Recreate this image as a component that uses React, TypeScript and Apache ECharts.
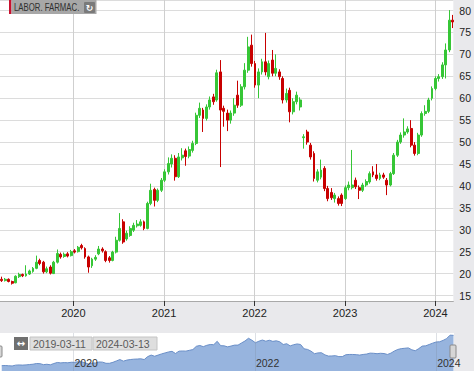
import React, { useEffect, useRef } from "react";
import * as echarts from "echarts";

const DAY = 86400000;
const AXIS_START = Date.UTC(2019, 2, 11);
const AXIS_END = Date.UTC(2024, 2, 13);
const LAST_CANDLE = Date.UTC(2024, 2, 11);
const STEP_DAYS = 14;

const yearTicks = [2020, 2021, 2022, 2023, 2024];
const navYearTicks = [2020, 2022, 2024];
const titleText = "LABOR. FARMAC.";
const rangeStartLabel = "2019-03-11";
const rangeEndLabel = "2024-03-13";

// [open, close, low, high] — bi-weekly candles
const ohlc: number[][] = [
  [18.7, 18.4, 18.1, 19.3], [18.4, 18.7, 18.2, 19.0], [18.7, 18.2, 18.0, 18.9], [18.2, 17.8, 17.5, 18.4],
  [17.9, 19.4, 17.8, 19.6], [19.3, 19.8, 19.0, 20.2], [19.8, 19.5, 19.2, 20.0], [19.5, 19.9, 19.3, 21.9],
  [19.9, 20.6, 19.7, 20.9], [20.5, 21.2, 20.2, 21.5], [21.2, 22.6, 21.0, 24.1], [23.0, 22.3, 21.9, 23.4],
  [22.6, 20.4, 20.0, 22.9], [20.4, 21.1, 20.1, 21.6], [21.5, 20.1, 19.8, 21.9], [20.0, 22.6, 19.9, 22.9],
  [22.6, 24.6, 22.3, 25.5], [24.4, 23.8, 23.4, 24.8], [23.9, 24.4, 23.6, 24.8], [24.5, 24.0, 23.7, 24.9],
  [24.1, 25.0, 23.9, 25.4], [25.2, 24.9, 24.6, 25.6], [25.0, 26.0, 24.8, 26.3], [26.4, 25.9, 25.5, 26.8],
  [25.7, 23.8, 23.4, 26.0], [23.8, 21.5, 20.2, 24.1], [21.8, 23.3, 21.3, 23.6], [23.3, 23.7, 22.9, 24.2],
  [24.5, 25.6, 24.2, 26.3], [25.6, 25.2, 24.8, 26.0], [25.0, 23.0, 22.6, 25.3], [23.6, 23.0, 22.5, 24.0],
  [23.0, 24.9, 22.8, 25.2], [24.9, 27.6, 24.6, 28.4], [27.6, 30.3, 27.3, 33.8], [31.8, 27.2, 26.8, 32.4],
  [27.9, 29.2, 27.5, 29.8], [28.7, 30.3, 28.4, 30.8], [29.9, 31.0, 29.5, 31.6], [30.9, 31.3, 30.5, 32.2],
  [31.0, 31.8, 30.7, 32.4], [31.8, 30.3, 29.9, 32.1], [30.3, 36.0, 30.1, 36.4], [36.0, 39.0, 35.6, 40.5],
  [39.2, 36.7, 35.3, 39.6], [36.7, 39.0, 36.3, 39.4], [39.0, 41.3, 38.6, 41.8], [41.3, 43.2, 40.9, 43.8],
  [43.2, 45.1, 42.6, 46.5], [45.0, 46.3, 44.2, 47.2], [46.3, 42.1, 41.2, 47.0], [42.1, 46.6, 41.8, 47.5],
  [46.4, 47.0, 45.8, 48.6], [48.0, 46.7, 44.6, 48.5], [46.8, 48.3, 46.3, 49.0], [48.1, 49.7, 47.6, 50.3],
  [49.7, 56.1, 49.3, 56.7], [56.1, 57.7, 55.5, 59.0], [57.3, 55.4, 52.3, 57.8], [55.4, 58.0, 54.9, 58.6],
  [58.0, 59.6, 57.4, 60.4], [60.3, 59.2, 58.5, 61.0], [59.6, 65.8, 59.2, 66.5], [66.0, 57.3, 44.3, 68.7],
  [57.7, 57.0, 53.5, 58.3], [56.6, 55.0, 52.5, 57.4], [55.0, 56.6, 54.2, 57.2], [56.6, 58.4, 56.0, 60.0],
  [60.7, 58.4, 57.8, 64.0], [58.4, 62.6, 58.0, 63.2], [62.6, 66.4, 62.0, 68.0], [66.4, 71.7, 65.8, 74.0],
  [72.1, 67.9, 67.2, 74.5], [67.9, 63.0, 62.4, 68.5], [63.0, 66.0, 60.0, 66.8], [66.0, 68.3, 65.4, 69.0],
  [68.3, 66.0, 65.2, 74.9], [64.9, 67.9, 64.3, 68.6], [68.7, 65.7, 65.0, 71.0], [65.7, 66.8, 65.0, 70.0],
  [66.0, 64.9, 64.2, 66.6], [64.5, 59.6, 58.8, 65.0], [59.6, 61.1, 59.0, 62.2], [61.8, 56.9, 54.5, 62.4],
  [56.9, 59.2, 56.3, 60.0], [59.2, 60.7, 58.6, 61.5], [58.0, 59.6, 57.2, 60.2], [51.0, 51.2, 48.5, 51.8],
  [52.3, 50.0, 49.4, 52.8], [49.3, 46.6, 46.0, 49.8], [47.4, 41.7, 41.0, 47.9], [41.3, 43.2, 40.8, 43.8],
  [42.0, 43.6, 41.5, 46.0], [44.0, 39.4, 38.8, 44.5], [39.4, 37.1, 36.5, 40.0], [38.5, 37.3, 36.8, 39.5],
  [37.1, 37.9, 36.2, 38.4], [37.1, 36.0, 35.5, 37.6], [37.9, 36.0, 35.4, 38.3], [37.1, 39.6, 36.8, 40.1],
  [39.6, 40.2, 39.0, 41.0], [39.6, 40.2, 39.2, 48.2], [41.3, 39.8, 39.3, 41.9], [39.6, 39.0, 37.0, 40.1],
  [39.0, 40.2, 38.6, 40.7], [40.2, 41.0, 39.8, 41.5], [40.9, 42.8, 40.5, 43.3], [43.2, 42.5, 42.0, 44.5],
  [42.5, 41.7, 41.2, 45.0], [41.7, 42.5, 41.3, 43.0], [42.5, 42.0, 41.6, 43.0], [41.3, 40.2, 37.9, 41.8],
  [40.2, 42.8, 39.9, 43.2], [42.8, 47.0, 42.5, 47.5], [47.0, 50.0, 46.6, 50.5], [50.0, 51.6, 49.6, 52.2],
  [51.6, 52.3, 51.0, 55.4], [52.3, 53.0, 51.9, 53.6], [53.1, 49.3, 48.8, 55.0], [49.3, 47.4, 46.9, 50.0],
  [47.4, 51.6, 47.0, 52.1], [51.6, 56.5, 51.2, 57.0], [56.5, 57.0, 56.0, 58.4], [57.0, 59.6, 56.6, 60.1],
  [60.0, 62.2, 59.5, 62.7], [62.2, 64.5, 61.8, 65.0], [64.5, 64.9, 63.8, 65.5], [64.9, 67.6, 64.4, 68.2],
  [67.6, 71.0, 64.5, 72.5], [71.0, 77.8, 70.5, 80.1], [77.8, 77.4, 76.0, 79.0],
];

const FONT = "'Liberation Sans', Arial, sans-serif";

const dates = ohlc.map((_, i) => LAST_CANDLE - (ohlc.length - 1 - i) * STEP_DAYS * DAY);
const candleData = ohlc.map((d, i) => [dates[i], d[0], d[1], d[2], d[3]]);
const closeData = ohlc.map((d, i) => [dates[i], d[1]]);
const yearTs = yearTicks.map((y) => Date.UTC(y, 0, 1));
const navYearTs = navYearTicks.map((y) => Date.UTC(y, 0, 1));

const GREEN = "#36c636";
const RED = "#c80000";

const yearFormatter = (v: number) => String(new Date(v).getUTCFullYear());

function buildOption(): any {
  return {
    animation: false,
    backgroundColor: "transparent",
    grid: [
      { left: 0, top: 0, width: 454, height: 301, show: true, backgroundColor: "#ffffff", borderWidth: 0 },
      { left: 0, top: 333, width: 454, height: 38, show: true, backgroundColor: "#ffffff", borderWidth: 0 },
    ],
    xAxis: [
      {
        type: "value",
        gridIndex: 0,
        min: AXIS_START,
        max: AXIS_END,
        axisLine: { show: true, lineStyle: { color: "#a9a9a9", width: 1 } },
        axisTick: { show: true, customValues: yearTs, length: 5, lineStyle: { color: "#333" } },
        axisLabel: {
          customValues: yearTs,
          formatter: yearFormatter,
          color: "#222",
          fontSize: 11,
          fontFamily: FONT,
          margin: 6,
        },
        splitLine: { show: true, lineStyle: { color: "#cfcfcf", width: 1 } },
      },
      {
        type: "value",
        gridIndex: 1,
        position: "top",
        offset: -36,
        z: 10,
        min: AXIS_START,
        max: AXIS_END,
        axisLine: { show: false },
        axisTick: { show: false, customValues: navYearTs },
        axisLabel: {
          customValues: navYearTs,
          formatter: yearFormatter,
          align: "left",
          color: "#333",
          fontSize: 10.5,
          fontFamily: FONT,
          margin: 1,
          padding: [0, 0, 0, 1],
        },
        splitLine: { show: true, lineStyle: { color: "rgba(120,130,150,0.25)", width: 1 } },
      },
    ],
    yAxis: [
      {
        type: "value",
        gridIndex: 0,
        position: "right",
        min: 13.75,
        max: 82.4,
        splitNumber: 14,
        minInterval: 5,
        maxInterval: 5,
        axisLine: { show: false },
        axisTick: { show: false },
        axisLabel: {
          showMinLabel: false,
          showMaxLabel: false,
          formatter: (v: number) => (Math.abs(v % 5) < 1e-6 ? String(v) : ""),
          color: "#222",
          fontSize: 10.5,
          fontFamily: FONT,
          margin: 6,
        },
        splitLine: { show: true, lineStyle: { color: "#dcdcdc", width: 1 } },
      },
      {
        type: "value",
        gridIndex: 1,
        min: 8,
        max: 82,
        show: false,
        splitLine: { show: false },
      },
    ],
    series: [
      {
        type: "candlestick",
        xAxisIndex: 0,
        yAxisIndex: 0,
        data: candleData,
        encode: { x: 0, y: [1, 2, 3, 4] },
        barWidth: 2.4,
        itemStyle: {
          color: GREEN,
          color0: RED,
          borderColor: GREEN,
          borderColor0: RED,
          borderWidth: 1,
        },
      },
      {
        type: "line",
        xAxisIndex: 1,
        yAxisIndex: 1,
        data: closeData,
        showSymbol: false,
        symbol: "none",
        z: 1,
        lineStyle: { color: "#6a8fc8", width: 1 },
        areaStyle: { color: "#97b4de", opacity: 1 },
      },
    ],
    graphic: [
      { type: "rect", z: 100, shape: { x: 9, y: 0, width: 2.5, height: 14 }, style: { fill: "#c8102e" } },
      { type: "rect", z: 100, shape: { x: 11.5, y: 0, width: 85, height: 14 }, style: { fill: "#a7a7a7" } },
      {
        type: "text", z: 101, x: 14, y: 7.5, scaleX: 0.78, scaleY: 1,
        style: { text: titleText, fill: "#303030", font: `10px ${FONT}`, verticalAlign: "middle", align: "left" },
      },
      { type: "rect", z: 101, shape: { x: 84, y: 2, width: 11, height: 11, r: 1 }, style: { fill: "#7a7a7a" } },
      {
        type: "text", z: 102, x: 89.5, y: 7.5,
        style: { text: "↻", fill: "#ffffff", font: "bold 9px 'DejaVu Sans', sans-serif", align: "center", verticalAlign: "middle" },
      },
      { type: "rect", z: 100, shape: { x: 14, y: 337, width: 14, height: 13 }, style: { fill: "#707070" } },
      {
        type: "text", z: 101, x: 21, y: 343.5,
        style: { text: "↔", fill: "#ffffff", font: "bold 10px 'DejaVu Sans', sans-serif", align: "center", verticalAlign: "middle" },
      },
      { type: "rect", z: 100, shape: { x: 30, y: 337, width: 62, height: 13 }, style: { fill: "#dedede", stroke: "#c4c4c4", lineWidth: 1 } },
      {
        type: "text", z: 101, x: 33, y: 343.5,
        style: { text: rangeStartLabel, fill: "#5a5a5a", font: `10.5px ${FONT}`, align: "left", verticalAlign: "middle" },
      },
      { type: "rect", z: 100, shape: { x: 93, y: 337, width: 64, height: 13 }, style: { fill: "#dedede", stroke: "#c4c4c4", lineWidth: 1 } },
      {
        type: "text", z: 101, x: 96, y: 343.5,
        style: { text: rangeEndLabel, fill: "#5a5a5a", font: `10.5px ${FONT}`, align: "left", verticalAlign: "middle" },
      },
      { type: "rect", z: 100, shape: { x: 450, y: 345, width: 6, height: 13, r: 1 }, style: { fill: "#d6d6d6", stroke: "#8a8a8a", lineWidth: 1 } },
      { type: "rect", z: 100, shape: { x: -3, y: 346, width: 5, height: 11, r: 1 }, style: { fill: "#d6d6d6", stroke: "#8a8a8a", lineWidth: 1 } },
    ],
  };
}

export default function App() {
  const ref = useRef<HTMLDivElement>(null);
  useEffect(() => {
    if (!ref.current) return;
    const chart = echarts.init(ref.current, null, { renderer: "svg" });
    chart.setOption(buildOption());
    return () => chart.dispose();
  }, []);
  return (
    <div
      ref={ref}
      style={{ position: "fixed", left: 0, top: 0, width: 474, height: 371, background: "#e9e9ec" }}
    />
  );
}
